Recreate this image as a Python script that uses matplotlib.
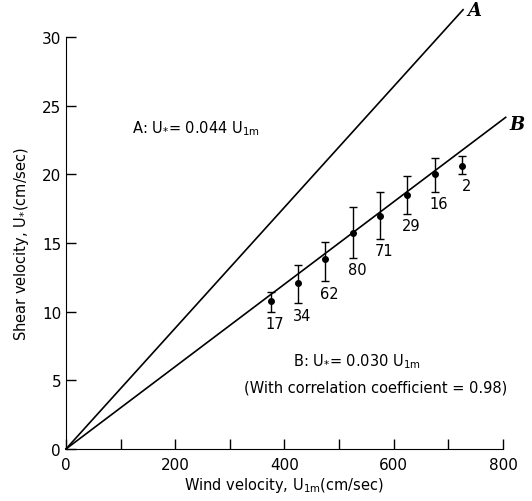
import matplotlib
matplotlib.use("Agg")
import matplotlib.pyplot as plt
import numpy as np

# Data
wind = [375, 425, 475, 525, 575, 625, 675, 725]
shear = [10.8, 12.1, 13.8, 15.7, 17.0, 18.5, 20.0, 20.6]
err_hi = [11.4, 13.4, 15.1, 17.6, 18.7, 19.9, 21.2, 21.3]
err_lo = [10.0, 10.6, 12.2, 13.9, 15.3, 17.1, 18.7, 20.0]
counts = ["17", "34", "62", "80", "71", "29", "16", "2"]

slope_A = 0.044
slope_B = 0.030
xend_A = 727
xend_B = 805

xticks_major = [0, 200, 400, 600, 800]
xticks_minor = [100, 300, 500, 700]
yticks = [0, 5, 10, 15, 20, 25, 30]

plt.rcParams['font.family'] = ['DejaVu Sans']
plt.rcParams['mathtext.default'] = 'regular'
fig = plt.figure(figsize=(5.32, 5.02), dpi=100)
ax = fig.add_axes([0.124, 0.1036, 0.8214, 0.8207])

xa = np.array([0, xend_A])
xb = np.array([0, xend_B])
ax.plot(xa, slope_A * xa, color='black', lw=1.2, clip_on=False)
ax.plot(xb, slope_B * xb, color='black', lw=1.2, clip_on=False)

w = np.array(wind)
s = np.array(shear)
lo = s - np.array(err_lo)
hi = np.array(err_hi) - s
ax.errorbar(w, s, yerr=[lo, hi], fmt='o', color='black', ms=4,
            elinewidth=1.0, capsize=3, capthick=1.0, clip_on=False)
for xi, yl, c in zip(wind, err_lo, counts):
    ax.annotate(c, (xi, yl), xytext=(3, -3), textcoords='offset points',
                ha='center', va='top', fontsize=10.5)

ax.text(xend_A + 8, slope_A * xend_A, 'A', fontsize=13, fontweight='bold',
        fontstyle='italic', family='DejaVu Serif', ha='left', va='center')
ax.text(xend_B + 6, slope_B * xend_B - 0.5, 'B', fontsize=13, fontweight='bold',
        fontstyle='italic', family='DejaVu Serif', ha='left', va='center')

ax.text(120, 23.4, r'A: U$_{*}$= 0.044 U$_{1m}$', fontsize=10.5, ha='left', va='center')
ax.text(416, 6.4, r'B: U$_{*}$= 0.030 U$_{1m}$', fontsize=10.5, ha='left', va='center')
ax.text(566, 4.5, '(With correlation coefficient = 0.98)', fontsize=10.5,
        ha='center', va='center')

ax.set_xlim(0, 800)
ax.set_ylim(0, 30)
ax.set_xticks(xticks_major)
ax.set_xticks(xticks_minor, minor=True)
ax.set_yticks(yticks)
ax.tick_params(axis='both', which='both', direction='in', length=7, width=1,
               labelsize=11)
ax.tick_params(axis='x', pad=6)
ax.spines['top'].set_visible(False)
ax.spines['right'].set_visible(False)
ax.set_xlabel(r'Wind velocity, U$_{1m}$(cm/sec)', fontsize=10.5, labelpad=2)
ax.set_ylabel(r'Shear velocity, U$_{*}$(cm/sec)', fontsize=10.5, labelpad=8)

fig.savefig('out.png', dpi=100)
